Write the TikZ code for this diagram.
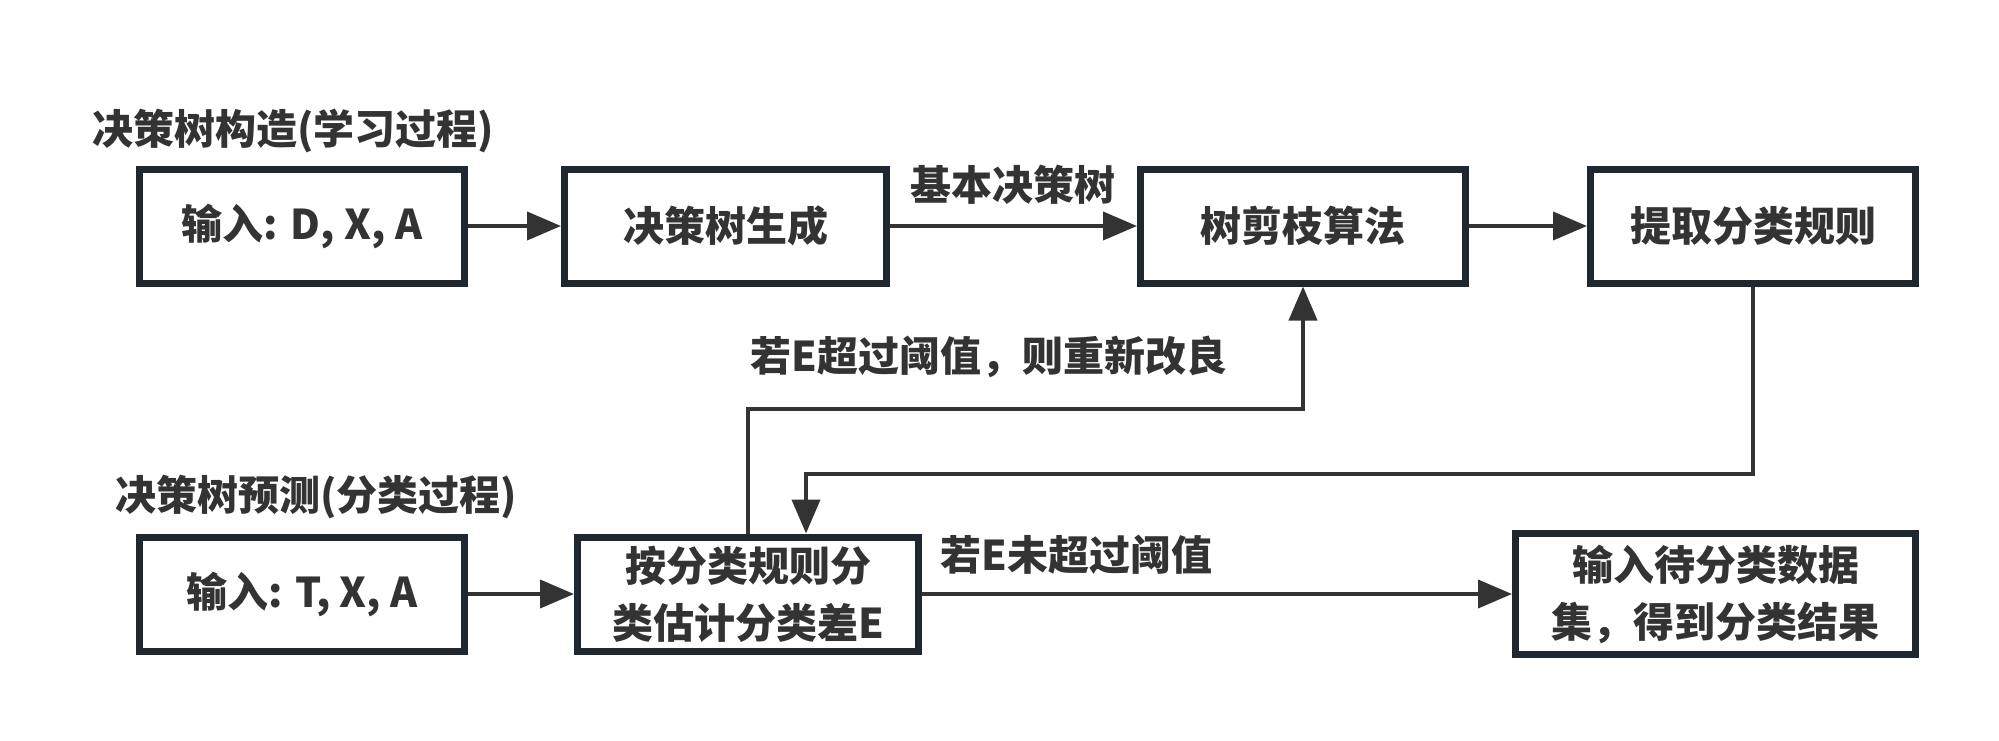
\documentclass[tikz,border=0pt]{standalone}
\usepackage{fontspec}
\setmainfont{Noto Sans CJK SC}[BoldFont={Noto Sans CJK SC Black}]
\usetikzlibrary{arrows.meta}
\definecolor{boxc}{HTML}{1F2830}
\definecolor{linec}{HTML}{333333}
\begin{document}
\begin{tikzpicture}[x=0.5pt,y=-0.5pt,
 box/.style={draw=boxc,line width=3.5pt,minimum height=57pt,inner sep=0pt,
   font=\fontsize{20.5pt}{28.5pt}\selectfont\bfseries,text=linec,align=center},
 conn/.style={draw=linec,line width=2pt,-{Triangle[length=17pt,width=14pt]}},
 lbl/.style={font=\fontsize{20.5pt}{28.5pt}\selectfont\bfseries,text=linec,inner sep=0pt}]
\useasboundingbox[fill=white] (0,0) rectangle (1999,740);
% titles
\node[lbl,anchor=west] (t1) at (92,131) {决策树构造(学习过程)};
\node[lbl,anchor=west] (t2) at (115,497) {决策树预测(分类过程)};
% top row
\node[box,minimum width=162.5pt] (b1) at (302,226) {输入: D, X, A};
\node[box,minimum width=161pt] (b2) at (725.5,226) {决策树生成};
\node[box,minimum width=162.5pt] (b3) at (1303,226) {树剪枝算法};
\node[box,minimum width=162.5pt] (b4) at (1753,226) {提取分类规则};
% bottom row
\node[box,minimum width=162.5pt] (b5) at (302,594) {输入: T, X, A};
\node[box,minimum width=170.5pt] (b6) at (748,594) {按分类规则分\\类估计分类差E};
\node[box,minimum width=200pt,minimum height=60.5pt] (b7) at (1715.5,594) {输入待分类数据\\集，得到分类结果};
% labels
\node[lbl] (l1) at (1013,185) {基本决策树};
\node[lbl,anchor=west] (l2) at (750,357) {若E超过阈值，则重新改良};
\node[lbl,anchor=west] (l3) at (940,555) {若E未超过阈值};
% connectors
\coordinate (r1) at (1000,409);
\coordinate (r2) at (1200,474);
\draw[conn] (b1) -- (b2);
\draw[conn] (b2) -- (b3);
\draw[conn] (b3) -- (b4);
\draw[conn] (b5) -- (b6);
\draw[conn] (b6) -- (b7);
\draw[conn] (b6.north) |- (r1) -| (b3.south);
\draw[conn] (b4.south) |- (r2) -| ([xshift=29pt]b6.north);
\end{tikzpicture}
\end{document}
